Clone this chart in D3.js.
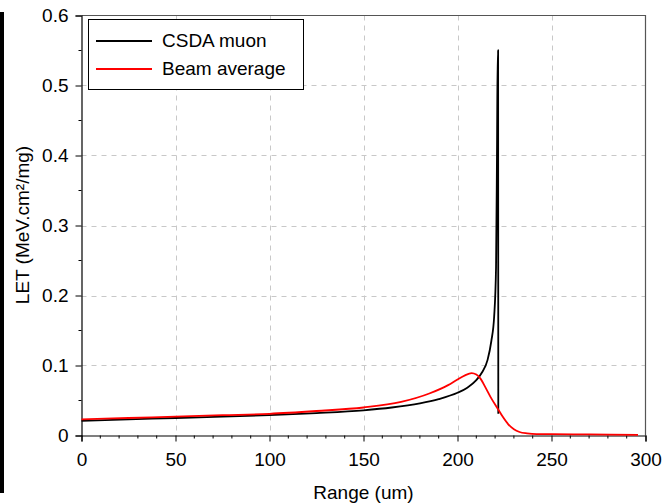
<!DOCTYPE html>
<html>
<head>
<meta charset="utf-8">
<script src="https://cdn.jsdelivr.net/npm/d3@7"></script>
<style>
  body { margin: 0; background: #fff; }
  svg { display: block; font-family: "Liberation Sans", Arial, sans-serif; }
</style>
</head>
<body>
<svg id="chart" width="672" height="503"></svg>
<script>
// CSDA muon LET vs range
const muonRange = [0, 25, 50, 75, 100, 125, 150, 165, 180, 190, 200, 205, 210, 213, 216, 218, 219.5, 220.5, 221, 221.4, 221.6, 221.7];
const muonLET   = [0.021, 0.023, 0.025, 0.027, 0.029, 0.032, 0.036, 0.040, 0.046, 0.052, 0.061, 0.068, 0.079, 0.090, 0.108, 0.135, 0.17, 0.24, 0.40, 0.55, 0.55, 0.031];

// beam-averaged LET vs range
const beamRange = [0, 25, 50, 75, 100, 125, 150, 170, 185, 195, 200, 204, 207.5, 210, 212, 215, 218, 221, 224, 227, 230, 233, 237, 242, 250, 270, 296];
const beamLET   = [0.023, 0.025, 0.027, 0.029, 0.031, 0.035, 0.040, 0.048, 0.060, 0.072, 0.080, 0.086, 0.089, 0.087, 0.082, 0.068, 0.053, 0.040, 0.027, 0.016, 0.009, 0.005, 0.003, 0.002, 0.002, 0.0015, 0.001];

const xTicks = [0, 50, 100, 150, 200, 250, 300];
const yTicks = [0, 0.1, 0.2, 0.3, 0.4, 0.5, 0.6];
const seriesNames = ['CSDA muon', 'Beam average'];
const seriesColors = ['#000000', '#ff0000'];

const plot = { left: 81.5, right: 645.5, top: 15.5, bottom: 435.5 };
const fontSize = 19;

const svg = d3.select('#chart');

// black strip at the left edge
svg.append('rect').attr('x', 0).attr('y', 12).attr('width', 4).attr('height', 481).attr('fill', '#000');

const x = d3.scaleLinear().domain([0, 300]).range([plot.left, plot.right]);
const y = d3.scaleLinear().domain([0, 0.6]).range([plot.bottom, plot.top]);

// grid
const grid = svg.append('g').attr('stroke', '#c8c8c8').attr('stroke-dasharray', '5,5');
grid.selectAll('line.gx').data(xTicks.slice(1, -1)).enter().append('line')
    .attr('x1', d => Math.round(x(d)) + 0.5).attr('x2', d => Math.round(x(d)) + 0.5)
    .attr('y1', plot.top).attr('y2', plot.bottom);
grid.selectAll('line.gy').data(yTicks.slice(1, -1)).enter().append('line')
    .attr('y1', d => Math.round(y(d)) + 0.5).attr('y2', d => Math.round(y(d)) + 0.5)
    .attr('x1', plot.left).attr('x2', plot.right);

// top and right frame
svg.append('path')
    .attr('d', `M${plot.left},${plot.top}H${plot.right}V${plot.bottom}`)
    .attr('fill', 'none').attr('stroke', '#555').attr('stroke-width', 1.2);

// axes
const xAxis = d3.axisBottom(x).tickValues(xTicks).tickFormat(d3.format('d')).tickSize(6).tickPadding(11);
const yAxis = d3.axisLeft(y).tickValues(yTicks).tickFormat(d => d === 0 ? '0' : d3.format('.1f')(d)).tickSize(6).tickPadding(7);

const gx = svg.append('g').attr('transform', `translate(0,${plot.bottom})`).call(xAxis);
const gy = svg.append('g').attr('transform', `translate(${plot.left},0)`).call(yAxis);

// minor ticks
gx.selectAll('line.minor').data(d3.range(10, 300, 10).filter(d => d % 50 !== 0)).enter().append('line')
    .attr('class', 'minor')
    .attr('x1', d => x(d)).attr('x2', d => x(d)).attr('y1', 0).attr('y2', 3).attr('stroke', '#000');
gy.selectAll('line.minor').data([0.05, 0.15, 0.25, 0.35, 0.45, 0.55]).enter().append('line')
    .attr('class', 'minor')
    .attr('y1', d => y(d)).attr('y2', d => y(d)).attr('x1', 0).attr('x2', -3).attr('stroke', '#000');

[gx, gy].forEach(g => {
    g.select('.domain').attr('stroke', '#000').attr('stroke-width', 1.2);
    g.selectAll('.tick line').attr('stroke', '#000');
    g.selectAll('text').attr('font-size', fontSize).attr('fill', '#000')
        .attr('font-family', '"Liberation Sans", Arial, sans-serif');
});

// lines
const line = d3.line().x(d => x(d[0])).y(d => y(d[1]));
const muon = muonRange.map((r, i) => [r, muonLET[i]]);
const beam = beamRange.map((r, i) => [r, beamLET[i]]);

svg.append('path').datum(muon)
    .attr('d', line.curve(d3.curveMonotoneX))
    .attr('fill', 'none').attr('stroke', seriesColors[0]).attr('stroke-width', 1.8);
svg.append('path').datum(beam)
    .attr('d', line.curve(d3.curveMonotoneX))
    .attr('fill', 'none').attr('stroke', seriesColors[1]).attr('stroke-width', 1.8);

// legend
const lg = svg.append('g');
lg.append('rect').attr('x', 88.5).attr('y', 19.5).attr('width', 215).attr('height', 70)
    .attr('fill', '#fff').attr('stroke', '#000').attr('stroke-width', 1);
seriesNames.forEach((name, i) => {
    const yy = 41 + i * 28;
    lg.append('line').attr('x1', 96).attr('x2', 152).attr('y1', yy).attr('y2', yy)
        .attr('stroke', seriesColors[i]).attr('stroke-width', 1.8);
    lg.append('text').attr('x', 162).attr('y', yy + 6).attr('font-size', fontSize).text(name);
});

// axis titles
svg.append('text').attr('x', (plot.left + plot.right) / 2).attr('y', 499)
    .attr('text-anchor', 'middle').attr('font-size', fontSize).text('Range (um)');
svg.append('text').attr('transform', 'translate(29,225) rotate(-90)')
    .attr('text-anchor', 'middle').attr('font-size', fontSize).text('LET (MeV.cm²/mg)');
</script>
</body>
</html>
